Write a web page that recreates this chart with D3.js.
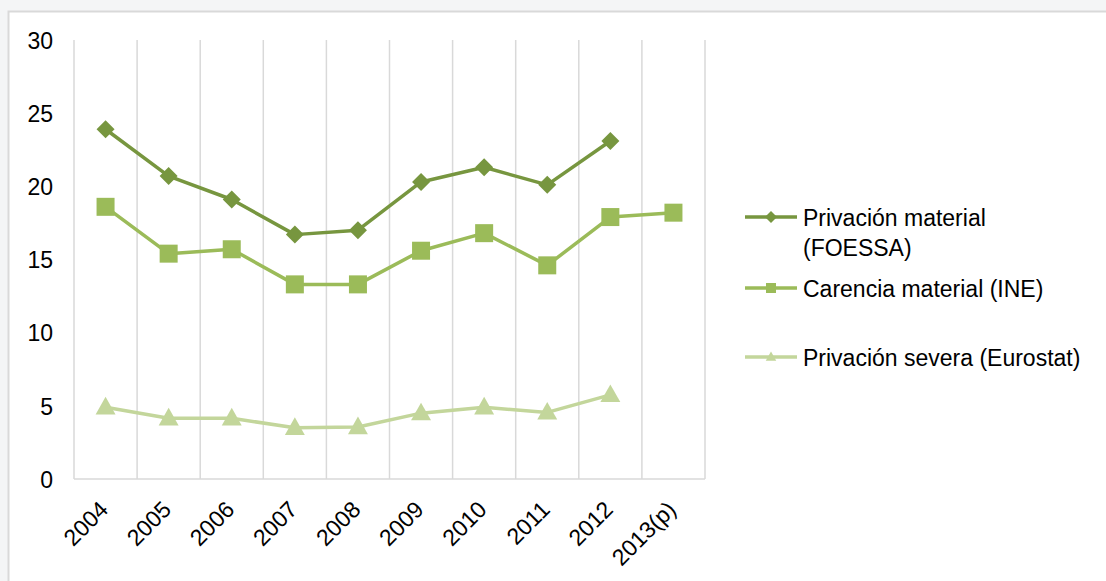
<!DOCTYPE html>
<html><head><meta charset="utf-8">
<script src="https://cdn.jsdelivr.net/npm/d3@7"></script>
<style>
body{margin:0;background:#f4f5f6;}
svg{display:block;}
</style></head>
<body>
<svg id="c" width="1106" height="581"></svg>
<script>
const categories = ["2004","2005","2006","2007","2008","2009","2010","2011","2012","2013(p)"];
const foessa = [23.9,20.7,19.1,16.7,17.0,20.3,21.3,20.1,23.1,null];
const ine = [18.6,15.4,15.7,13.3,13.3,15.6,16.8,14.6,17.9,18.2];
const eurostat = [4.9,4.15,4.15,3.5,3.55,4.5,4.9,4.55,5.75,null];
const yTicks = [0,5,10,15,20,25,30];
const seriesNames = ["Privación material (FOESSA)","Carencia material (INE)","Privación severa (Eurostat)"];

const svg = d3.select("#c");
svg.append("rect").attr("x",8.5).attr("y",11.5).attr("width",1110).attr("height",580)
  .attr("fill","#fff").attr("stroke","#d9d9d9").attr("stroke-width",2);

const x = d3.scaleBand().domain(categories).range([74,705]);
const y = d3.scaleLinear().domain([0,30]).range([479,40]);
const font = "'Liberation Sans', Arial, sans-serif";
const fs = 23;

// vertical gridlines at category boundaries
const bounds = categories.map(c=>x(c)).concat([x.range()[1]]);
svg.append("g").selectAll("line").data(bounds).join("line")
  .attr("x1",d=>d).attr("x2",d=>d).attr("y1",y(30)).attr("y2",y(0))
  .attr("stroke","#d9d9d9").attr("stroke-width",1.5);
svg.append("line").attr("x1",74).attr("x2",705).attr("y1",y(0)).attr("y2",y(0))
  .attr("stroke","#d9d9d9").attr("stroke-width",1.5);

// y axis labels
const yAxis = d3.axisLeft(y).tickValues(yTicks).tickSize(0).tickPadding(0);
const gy = svg.append("g").attr("transform","translate(53,0)").call(yAxis);
gy.select(".domain").remove();
gy.selectAll("text").attr("font-family",font).attr("font-size",fs).attr("fill","#000").attr("dy","0.36em");

// x axis labels
const xAxis = d3.axisBottom(x).tickSize(0).tickPadding(0);
const gx = svg.append("g").attr("transform","translate(0,"+y(0)+")").call(xAxis);
gx.select(".domain").remove();
gx.selectAll("text").attr("font-family",font).attr("font-size",fs).attr("fill","#000")
  .attr("text-anchor","end").attr("dy",0).attr("y",0)
  .attr("transform","translate(4,32) rotate(-45)");

const series = [
  {name:seriesNames[0], values:foessa, color:"#77963f", shape:"diamond"},
  {name:seriesNames[1], values:ine, color:"#9bbb59", shape:"square"},
  {name:seriesNames[2], values:eurostat, color:"#c3d69b", shape:"triangle"}
];
const cx = c => x(c)+x.bandwidth()/2;
function marker(g, shape, color, s){
  if(shape==="diamond"){
    g.append("path").attr("d",`M0,${-s}L${s},0L0,${s}L${-s},0Z`).attr("fill",color);
  } else if(shape==="square"){
    g.append("rect").attr("x",-s).attr("y",-s).attr("width",2*s).attr("height",2*s).attr("fill",color);
  } else {
    g.append("path").attr("d",`M0,${-s*1.1}L${s*1.05},${s*0.75}L${-s*1.05},${s*0.75}Z`).attr("fill",color);
  }
}
series.forEach(s=>{
  const pts = categories.map((c,i)=>({c, v:s.values[i]})).filter(d=>d.v!=null);
  const line = d3.line().x(d=>cx(d.c)).y(d=>y(d.v));
  svg.append("path").datum(pts).attr("d",line).attr("fill","none")
    .attr("stroke",s.color).attr("stroke-width",3.5).attr("stroke-linejoin","round");
  pts.forEach(d=>{
    const g = svg.append("g").attr("transform",`translate(${cx(d.c)},${y(d.v)})`);
    marker(g, s.shape, s.color, s.shape==="diamond"?9:(s.shape==="square"?9:9.5));
  });
});

// legend
const legendY = [217, 288, 357];
series.forEach((s,i)=>{
  const ly = legendY[i];
  svg.append("line").attr("x1",745).attr("x2",797).attr("y1",ly).attr("y2",ly)
    .attr("stroke",s.color).attr("stroke-width",3.5);
  const g = svg.append("g").attr("transform",`translate(771,${ly})`);
  marker(g, s.shape, s.color, s.shape==="diamond"?6:5);
  const t = svg.append("text").attr("x",803).attr("y",ly+9)
    .attr("font-family",font).attr("font-size",fs).attr("fill","#000");
  if(i===0){
    t.append("tspan").attr("x",803).text("Privación material");
    t.append("tspan").attr("x",803).attr("dy",30).text("(FOESSA)");
  } else t.text(s.name);
});
</script>
</body></html>
